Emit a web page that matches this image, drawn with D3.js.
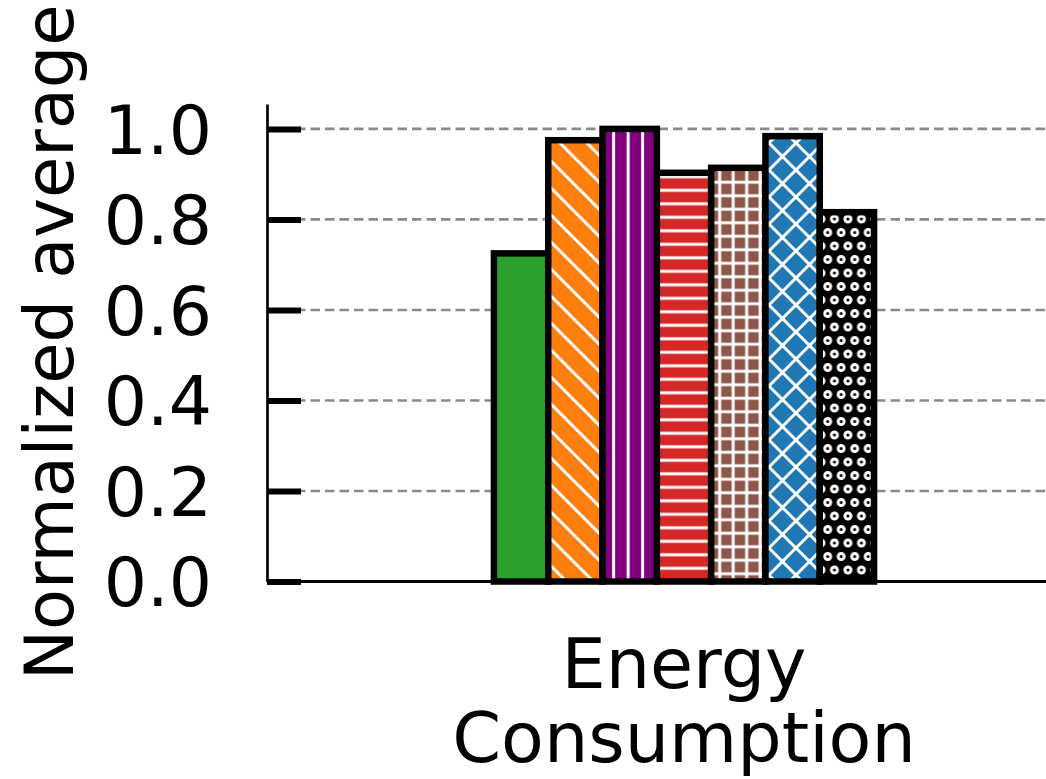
<!DOCTYPE html>
<html>
<head>
<meta charset="utf-8">
<script src="https://cdn.jsdelivr.net/npm/d3@7"></script>
<style>
  html, body { margin: 0; padding: 0; background: #fff; }
  svg { display: block; }
  text { font-family: "DejaVu Sans", sans-serif; fill: #000; }
</style>
</head>
<body>
<svg id="chart" width="1046" height="779"></svg>
<script>
// ---- data ----
const categories = ["Energy Consumption"];
const seriesNames = ["S1", "S2", "S3", "S4", "S5", "S6", "S7"];
const seriesValues = [0.725, 0.975, 1.0, 0.903, 0.914, 0.984, 0.816];
const yTickValues = [0.0, 0.2, 0.4, 0.6, 0.8, 1.0];
const yLabel = "Normalized average";
const xLabelLines = ["Energy", "Consumption"];

// ---- styles ----
const seriesColors = ["#2ca02c", "#ff7f0e", "#800080", "#d62728", "#8c564b", "#1f77b4", "#000000"];
const seriesHatches = ["none", "back", "vert", "horiz", "grid", "cross", "dots"];

const W = 1046, H = 779;
const axisLeftX = 267, axisBottomY = 581.5, axisTopY = 104, axisRightX = 1101;
const svg = d3.select("#chart");

const y = d3.scaleLinear().domain([0, 1.055]).range([axisBottomY, axisTopY]);
const x0 = d3.scaleBand().domain(categories).range([axisLeftX, axisRightX])
  .paddingInner(0).paddingOuter(0.597);
const x1 = d3.scaleBand().domain(seriesNames).range([0, x0.bandwidth()]).padding(0);

// ---- hatch patterns ----
const defs = svg.append("defs");
const HW = 3.0;
const S = 13.5, D = 27, SV = 14.5;
function pat(id, w, h) {
  return defs.append("pattern").attr("id", id).attr("patternUnits", "userSpaceOnUse")
    .attr("width", w).attr("height", h);
}
const diagBack = `M${-D},0L${D},${2*D}M0,${-D}L${2*D},${D}M${-D},${-D}L${2*D},${2*D}`;
const diagFwd = `M${-D},${D}L${D},${-D}M0,${2*D}L${2*D},0M${-D},${2*D}L${2*D},${-D}`;
pat("back", D, D).attr("x", 4).append("path")
  .attr("d", diagBack).attr("stroke", "#fff").attr("stroke-width", HW);
pat("vert", SV, SV).attr("x", 3.7 - SV / 2).append("path")
  .attr("d", `M${SV/2},0V${SV}`).attr("stroke", "#fff").attr("stroke-width", HW);
pat("horiz", S, S).attr("y", 1.3 - S / 2).append("path")
  .attr("d", `M0,${S/2}H${S}`).attr("stroke", "#fff").attr("stroke-width", HW);
pat("grid", S, S).attr("x", 3).attr("y", 0).append("path")
  .attr("d", `M0,${S/2}H${S}M${S/2},0V${S}`)
  .attr("stroke", "#fff").attr("stroke-width", HW);
pat("cross", D, D).attr("x", 5).attr("y", 8).append("path")
  .attr("d", diagBack + diagFwd)
  .attr("stroke", "#fff").attr("stroke-width", HW);
(function () {
  const p = pat("dots", S, D).attr("x", 3).attr("y", 3);
  const pts = [[0, 0], [S, 0], [0, D], [S, D], [S / 2, S]];
  p.selectAll("circle").data(pts).join("circle")
    .attr("cx", d => d[0]).attr("cy", d => d[1]).attr("r", 3.0)
    .attr("fill", "none").attr("stroke", "#fff").attr("stroke-width", 3.0);
})();

// ---- grid ----
svg.append("g").selectAll("line").data(yTickValues).join("line")
  .attr("x1", axisLeftX).attr("x2", W)
  .attr("y1", d => y(d)).attr("y2", d => y(d))
  .attr("stroke", "#8a8a8a").attr("stroke-width", 2.6)
  .attr("stroke-dasharray", "9.5,5");

// ---- bars ----
const data = seriesNames.map((s, i) => ({ s, v: seriesValues[i], c: seriesColors[i], h: seriesHatches[i] }));
const g = svg.append("g").attr("transform", `translate(${x0(categories[0])},0)`);
const bars = g.selectAll("g.bar").data(data).join("g").attr("class", "bar");
bars.append("rect")
  .attr("x", d => x1(d.s)).attr("width", x1.bandwidth())
  .attr("y", d => y(d.v)).attr("height", d => y(0) - y(d.v))
  .attr("fill", d => d.c);
bars.filter(d => d.h !== "none").append("rect")
  .attr("x", d => x1(d.s)).attr("width", x1.bandwidth())
  .attr("y", d => y(d.v)).attr("height", d => y(0) - y(d.v))
  .attr("fill", d => `url(#${d.h})`);
bars.append("rect")
  .attr("x", d => x1(d.s)).attr("width", x1.bandwidth())
  .attr("y", d => y(d.v)).attr("height", d => y(0) - y(d.v))
  .attr("fill", "none").attr("stroke", "#000").attr("stroke-width", 6.5);

// ---- bottom spine ----
svg.append("line").attr("x1", axisLeftX).attr("x2", W)
  .attr("y1", axisBottomY).attr("y2", axisBottomY)
  .attr("stroke", "#000").attr("stroke-width", 3);

// ---- y axis ----
const yAxis = d3.axisLeft(y).tickValues(yTickValues).tickFormat(d3.format(".1f"))
  .tickSizeInner(-34).tickSizeOuter(0).tickPadding(55);
const ya = svg.append("g").attr("transform", `translate(${axisLeftX},0)`).call(yAxis);
ya.select(".domain").attr("stroke", "#000").attr("stroke-width", 2.7);
ya.selectAll(".tick line").attr("stroke", "#000").attr("stroke-width", 6);
ya.selectAll(".tick text")
  .attr("font-family", "DejaVu Sans").attr("font-size", 68).attr("fill", "#000")
  .attr("dy", "0.36em");

// ---- labels ----
const cx = x0(categories[0]) + x0.bandwidth() / 2;
const xl = svg.append("text").attr("text-anchor", "middle").attr("font-size", 70);
xl.selectAll("tspan").data(xLabelLines).join("tspan")
  .attr("x", cx).attr("y", (d, i) => 688 + i * 74).text(d => d);

svg.append("text").attr("transform", "translate(73,680) rotate(-90)")
  .attr("text-anchor", "start").attr("font-size", 67).text(yLabel);
</script>
</body>
</html>
